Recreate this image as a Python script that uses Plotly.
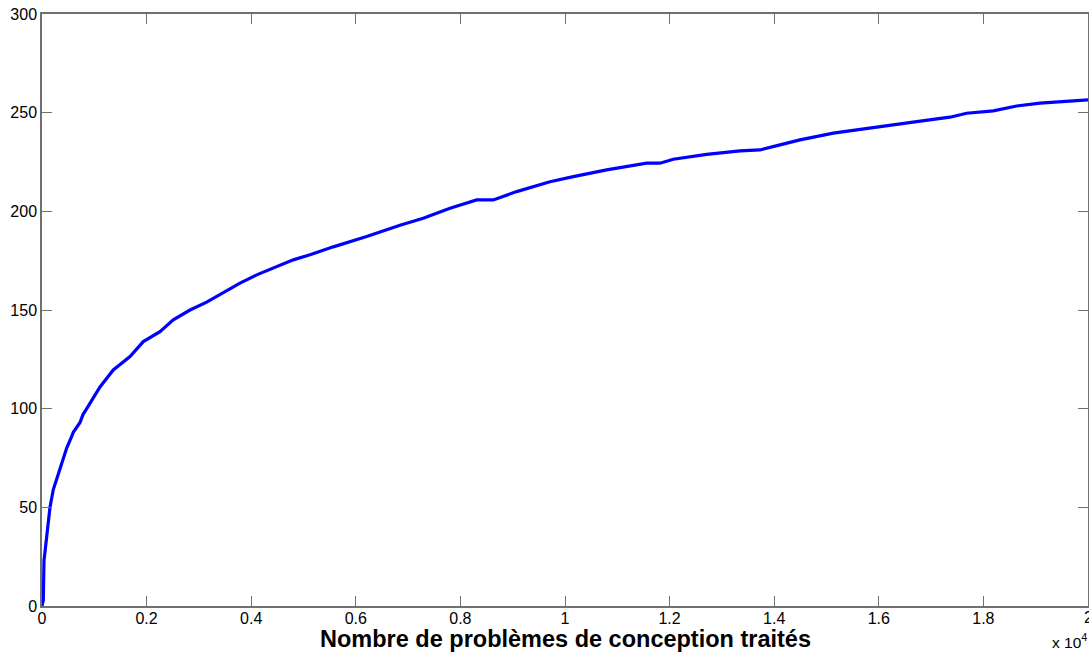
import plotly.graph_objects as go

# Data (x in number of problems, y = count)
x_vals = [0, 25, 38, 90, 153, 216, 312, 407, 472, 568, 598, 727, 784, 855, 950,
          1109, 1363, 1683, 1937, 2256, 2510, 2830, 3149, 3467, 3786, 4105, 4422,
          4805, 5124, 5570, 6208, 6845, 7290, 7801, 8311, 8629, 9076, 9713, 10159,
          10797, 11562, 11816, 12071, 12709, 13346, 13728, 14111, 14493, 15130,
          16086, 16724, 17361, 17680, 18189, 18636, 19082, 19592, 20000]
y_vals = [0, 3, 23, 37, 50, 59, 67, 75, 80, 86, 88, 93, 97, 100, 104,
          111, 119.6, 126.4, 134, 139, 145, 150, 154, 159, 163.6, 167.8, 171.2,
          175.4, 178, 182, 187.2, 193, 196.5, 201.6, 205.8, 205.8, 210, 215, 217.6,
          221, 224.4, 224.4, 226.4, 228.9, 230.6, 231.1, 233.7, 236.2, 239.6,
          243.3, 245.5, 247.7, 249.7, 250.9, 253.4, 254.8, 255.6, 256.5]

x_tick_vals = [0, 2000, 4000, 6000, 8000, 10000, 12000, 14000, 16000, 18000, 20000]
x_tick_text = ["0", "0.2", "0.4", "0.6", "0.8", "1", "1.2", "1.4", "1.6", "1.8", "2"]
y_tick_vals = [0, 50, 100, 150, 200, 250, 300]

x_title = "Nombre de problèmes de conception traités"
exponent_label = "x 10<sup>4</sup>"

FONT = "Liberation Sans, Arial, sans-serif"

fig = go.Figure()
fig.add_trace(go.Scatter(x=x_vals, y=y_vals, mode="lines",
                         line=dict(color="#0000ff", width=3.2), showlegend=False))

axis_common = dict(showline=True, linecolor="#707070", linewidth=1.5, mirror="ticks",
                   ticks="inside", ticklen=10, tickcolor="#707070", tickwidth=1,
                   showgrid=False, zeroline=False, automargin=False,
                   tickfont=dict(family=FONT, size=16, color="black"))

fig.update_xaxes(range=[0, 20000], tickvals=x_tick_vals[:-1], ticktext=x_tick_text[:-1],
                 ticklabelstandoff=-3, **axis_common)
fig.update_yaxes(range=[0, 300], tickvals=y_tick_vals, **axis_common)

# last x tick label (clipped at the right edge, as in the reference)
fig.add_annotation(text=x_tick_text[-1], x=x_tick_vals[-1], xref="x", yref="paper", y=0,
                   xanchor="center", yanchor="top", yshift=-1, showarrow=False,
                   font=dict(family=FONT, size=16, color="black"))

fig.add_annotation(text=x_title, xref="paper", yref="paper", x=0.5, y=0,
                   xanchor="center", yanchor="top", yshift=-18, showarrow=False,
                   font=dict(family=FONT, size=23.5, color="black", weight="bold"))

fig.add_annotation(text=exponent_label, xref="paper", yref="paper", x=1.0, y=0,
                   xanchor="right", yanchor="top", yshift=-23, xshift=1, showarrow=False,
                   font=dict(family=FONT, size=15.5, color="black"))

fig.update_layout(width=1089, height=653, margin=dict(l=42, r=1, t=14, b=47),
                  plot_bgcolor="white", paper_bgcolor="white")

fig.write_html("out.html", config={"displayModeBar": False},
               post_script="document.body.style.margin='0px';document.body.style.overflow='hidden';")
